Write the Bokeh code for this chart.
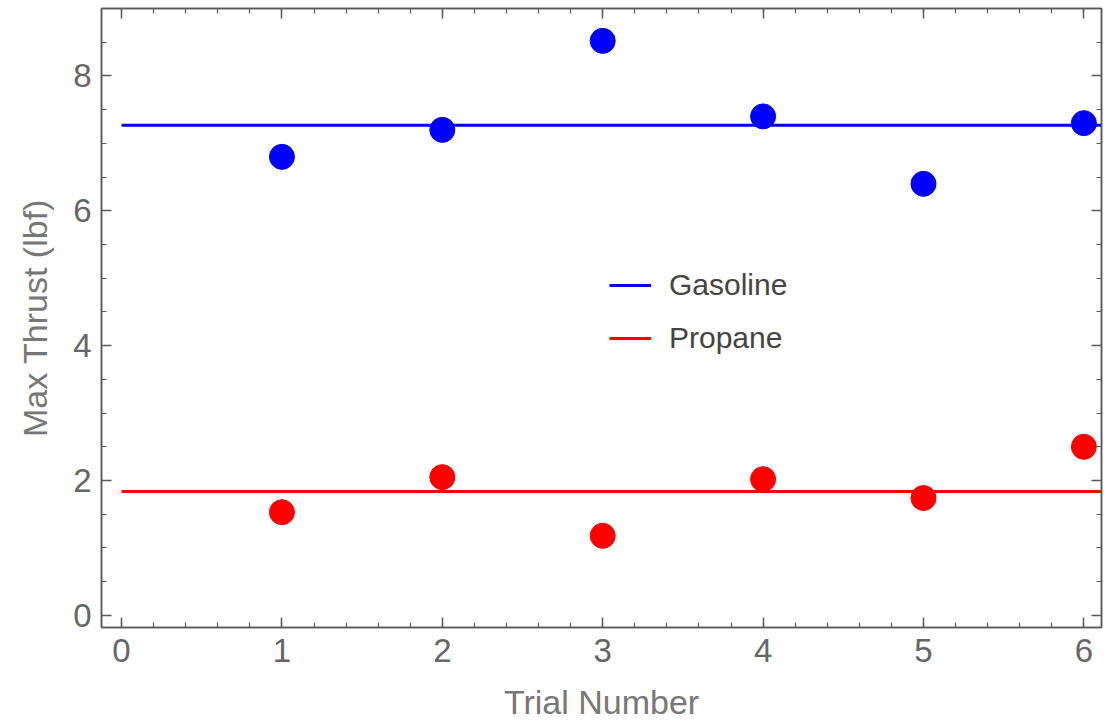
import numpy as np
from bokeh.plotting import figure
from bokeh.models import FixedTicker, LinearAxis, Legend, LegendItem, Range1d
from bokeh.embed import file_html
from bokeh.resources import INLINE

trials = [1, 2, 3, 4, 5, 6]
gasoline = [6.8, 7.2, 8.52, 7.4, 6.4, 7.3]
propane = [1.53, 2.05, 1.18, 2.02, 1.74, 2.50]
x_ticks = [0, 1, 2, 3, 4, 5, 6]
y_ticks = [0, 2, 4, 6, 8]

X0, X1 = -0.125, 6.11
Y0, Y1 = -0.18, 9.0

FONT = "Liberation Sans"
AX = "#5a5a5a"

p = figure(width=1111, height=723, x_range=Range1d(X0, X1), y_range=Range1d(Y0, Y1),
           output_backend="svg", toolbar_location=None,
           min_border_top=8, min_border_right=10, min_border_left=101, min_border_bottom=95,
           x_axis_label="Trial Number", y_axis_label="Max Thrust (lbf)")
p.grid.visible = False
p.outline_line_color = AX
p.outline_line_width = 1.5

x_minor = list(np.arange(0, 6.2, 0.2))
y_minor = list(np.arange(0, 9.01, 0.5))

def style(ax, labels=True):
    ax.axis_line_color = AX
    ax.axis_line_width = 1.5
    ax.major_tick_line_color = AX
    ax.minor_tick_line_color = AX
    ax.major_tick_line_width = 1.5
    ax.minor_tick_line_width = 1.2
    ax.major_tick_in = 10
    ax.major_tick_out = 0
    ax.minor_tick_in = 5
    ax.minor_tick_out = 0
    ax.major_label_text_font = FONT
    ax.major_label_text_font_size = "33px"
    ax.major_label_text_color = "#666666"
    ax.axis_label_text_font = FONT
    ax.axis_label_text_font_size = "34px"
    ax.axis_label_text_color = "#777777"
    ax.axis_label_text_font_style = "normal"
    if not labels:
        ax.major_label_text_font_size = "0px"
        ax.major_label_text_alpha = 0

p.xaxis.ticker = FixedTicker(ticks=x_ticks, minor_ticks=x_minor)
p.yaxis.ticker = FixedTicker(ticks=y_ticks, minor_ticks=y_minor)
style(p.xaxis[0])
style(p.yaxis[0])
p.xaxis.major_label_standoff = 11
p.xaxis.axis_label_standoff = 18
p.yaxis.major_label_standoff = 10
p.yaxis.axis_label_standoff = 16

top = LinearAxis(ticker=FixedTicker(ticks=x_ticks, minor_ticks=x_minor))
right = LinearAxis(ticker=FixedTicker(ticks=y_ticks, minor_ticks=y_minor))
style(top, labels=False)
style(right, labels=False)
top.major_label_standoff = 0
right.major_label_standoff = 0
p.add_layout(top, "above")
p.add_layout(right, "right")

gmean = float(np.mean(gasoline))
pmean = float(np.mean(propane))

gl = p.segment(x0=0, x1=X1 + 1, y0=gmean, y1=gmean, line_color="blue", line_width=3)
pl = p.segment(x0=0, x1=X1 + 1, y0=pmean, y1=pmean, line_color="red", line_width=3)
p.scatter(trials, gasoline, size=25, color="blue")
p.scatter(trials, propane, size=25, color="red")

legend = Legend(items=[LegendItem(label="Gasoline", renderers=[gl]),
                       LegendItem(label="Propane", renderers=[pl])],
                location=(508, 272))
legend.background_fill_alpha = 0
legend.border_line_alpha = 0
legend.label_text_font = FONT
legend.label_text_font_size = "30px"
legend.label_text_color = "#444444"
legend.glyph_width = 42
legend.glyph_height = 30
legend.label_standoff = 18
legend.spacing = 19
legend.padding = 0
legend.margin = 0
p.add_layout(legend)

open("out.html", "w").write(file_html(p, INLINE))
